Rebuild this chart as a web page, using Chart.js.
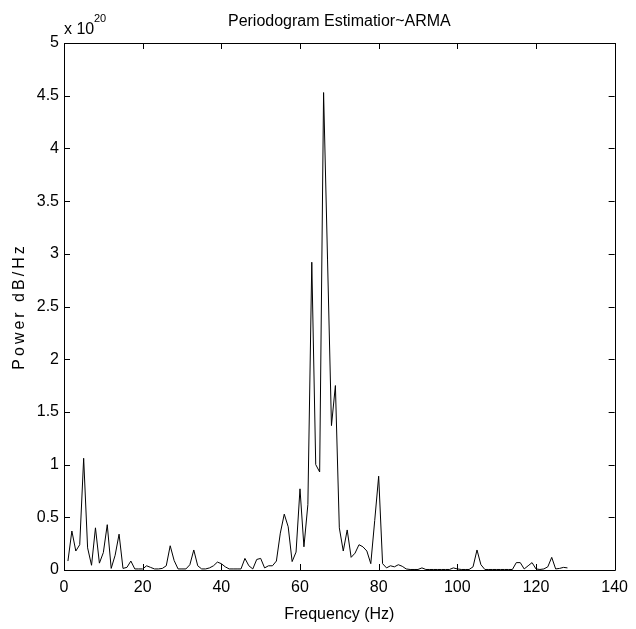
<!DOCTYPE html>
<html>
<head>
<meta charset="utf-8">
<script src="https://cdn.jsdelivr.net/npm/chart.js@4.4.1/dist/chart.umd.min.js"></script>
<style>
    html, body { margin: 0; padding: 0; background: #fff; }
    #wrap { width: 636px; height: 629px; }
</style>
</head>
<body>
<div id="wrap"><canvas id="chart-psd" width="636" height="629"></canvas></div>
<script>
// Frequency bins (Hz) and periodogram power (units of 1e20)
const freqHz = [
    1, 2, 3, 4, 5, 6, 7, 8, 9, 10, 11, 12, 13, 14, 15, 16,
    17, 18, 19, 20, 21, 22, 23, 24, 25, 26, 27, 28, 29, 30, 31, 32,
    33, 34, 35, 36, 37, 38, 39, 40, 41, 42, 43, 44, 45, 46, 47, 48,
    49, 50, 51, 52, 53, 54, 55, 56, 57, 58, 59, 60, 61, 62, 63, 64,
    65, 66, 67, 68, 69, 70, 71, 72, 73, 74, 75, 76, 77, 78, 79, 80,
    81, 82, 83, 84, 85, 86, 87, 88, 89, 90, 91, 92, 93, 94, 95, 96,
    97, 98, 99, 100, 101, 102, 103, 104, 105, 106, 107, 108, 109, 110, 111, 112,
    113, 114, 115, 116, 117, 118, 119, 120, 121, 122, 123, 124, 125, 126, 127, 128
];
const powerE20 = [
    0.085, 0.37, 0.18, 0.24, 1.06, 0.21, 0.045, 0.40, 0.065, 0.165, 0.43, 0.015, 0.14, 0.34, 0.015, 0.025,
    0.085, 0.01, 0.01, 0.01, 0.04, 0.025, 0.01, 0.01, 0.015, 0.04, 0.23, 0.09, 0.01, 0.01, 0.01, 0.05,
    0.19, 0.04, 0.01, 0.01, 0.02, 0.04, 0.075, 0.06, 0.03, 0.01, 0.01, 0.01, 0.01, 0.11, 0.04, 0.01,
    0.10, 0.11, 0.02, 0.04, 0.04, 0.085, 0.35, 0.53, 0.41, 0.08, 0.17, 0.77, 0.22, 0.62, 2.92, 1.00,
    0.93, 4.53, 2.95, 1.37, 1.75, 0.40, 0.18, 0.38, 0.12, 0.16, 0.24, 0.22, 0.18, 0.06, 0.47, 0.89,
    0.06, 0.02, 0.04, 0.03, 0.05, 0.035, 0.01, 0.005, 0.005, 0.005, 0.02, 0.005, 0.005, 0.005, 0.005, 0.005,
    0.005, 0.005, 0.02, 0.01, 0.005, 0.005, 0.005, 0.03, 0.19, 0.05, 0.005, 0.005, 0.005, 0.005, 0.005, 0.005,
    0.005, 0.005, 0.07, 0.07, 0.01, 0.04, 0.07, 0.01, 0.005, 0.01, 0.03, 0.12, 0.01, 0.015, 0.025, 0.02
];
const xTicks = [0, 20, 40, 60, 80, 100, 120, 140];
const yTicks = [0, 0.5, 1, 1.5, 2, 2.5, 3, 3.5, 4, 4.5, 5];

const titleText = 'Periodogram Estimatior~ARMA';
const xLabel    = 'Frequency (Hz)';
const yLabel    = 'Power dB/Hz';
const expBase   = 'x 10';
const expPow    = '20';

const FONT = 'Arial, "Liberation Sans", Helvetica, sans-serif';
const TICK_LEN = 6;

// MATLAB-style box with inward ticks plus the loose text around the axes
const axesFrame = {
    id: 'axesFrame',
    afterDraw(chart) {
        const { ctx, chartArea: a, scales } = chart;
        ctx.save();
        ctx.strokeStyle = '#000';
        ctx.lineWidth = 1;
        ctx.beginPath();
        ctx.rect(Math.round(a.left) + 0.5, Math.round(a.top) + 0.5,
                 Math.round(a.right - a.left), Math.round(a.bottom - a.top));
        for (const v of xTicks) {
            const px = Math.round(scales.x.getPixelForValue(v)) + 0.5;
            ctx.moveTo(px, a.bottom); ctx.lineTo(px, a.bottom - TICK_LEN);
            ctx.moveTo(px, a.top);    ctx.lineTo(px, a.top + TICK_LEN);
        }
        for (const v of yTicks) {
            const py = Math.round(scales.y.getPixelForValue(v)) + 0.5;
            ctx.moveTo(a.left, py);  ctx.lineTo(a.left + TICK_LEN, py);
            ctx.moveTo(a.right, py); ctx.lineTo(a.right - TICK_LEN, py);
        }
        ctx.stroke();

        const cx = (a.left + a.right) / 2;
        ctx.fillStyle = '#000';
        ctx.textAlign = 'center';
        ctx.textBaseline = 'alphabetic';
        ctx.font = `16px ${FONT}`;
        ctx.fillText(titleText, cx, 26);
        ctx.fillText(xLabel, cx, 619);

        // exponent
        ctx.textAlign = 'left';
        ctx.fillText(expBase, 64, 34);
        ctx.font = `11px ${FONT}`;
        ctx.fillText(expPow, 94, 22);

        // rotated y label
        ctx.font = `16px ${FONT}`;
        ctx.translate(24, (a.top + a.bottom) / 2);
        ctx.rotate(-Math.PI / 2);
        ctx.textAlign = 'center';
        ctx.letterSpacing = '3px';
        ctx.fillText(yLabel, 0, 0);
        ctx.restore();
    }
};

const tickFont = { family: FONT, size: 16 };

new Chart(document.getElementById('chart-psd'), {
    type: 'line',
    data: {
        datasets: [{
            data: freqHz.map((f, i) => ({ x: f, y: powerE20[i] })),
            borderColor: '#000',
            borderWidth: 1,
            pointRadius: 0,
            tension: 0,
            fill: false,
        }],
    },
    options: {
        responsive: false,
        animation: false,
        layout: { padding: { left: 0, right: 17, top: 43, bottom: 0 } },
        plugins: {
            legend:  { display: false },
            tooltip: { enabled: false },
        },
        scales: {
            x: {
                type: 'linear', min: 0, max: 140,
                afterBuildTicks: s => { s.ticks = xTicks.map(v => ({ value: v })); },
                afterFit: s => { s.height = 59; },
                grid:   { display: false, drawTicks: false },
                border: { display: false },
                ticks:  { color: '#000', font: tickFont, padding: 8, maxRotation: 0, autoSkip: false },
            },
            y: {
                type: 'linear', min: 0, max: 5,
                afterBuildTicks: s => { s.ticks = yTicks.map(v => ({ value: v })); },
                afterFit: s => { s.width = 64; },
                grid:   { display: false, drawTicks: false },
                border: { display: false },
                ticks:  { color: '#000', font: tickFont, padding: 5, autoSkip: false, callback: v => String(v) },
            },
        },
    },
    plugins: [axesFrame],
});
</script>
</body>
</html>
